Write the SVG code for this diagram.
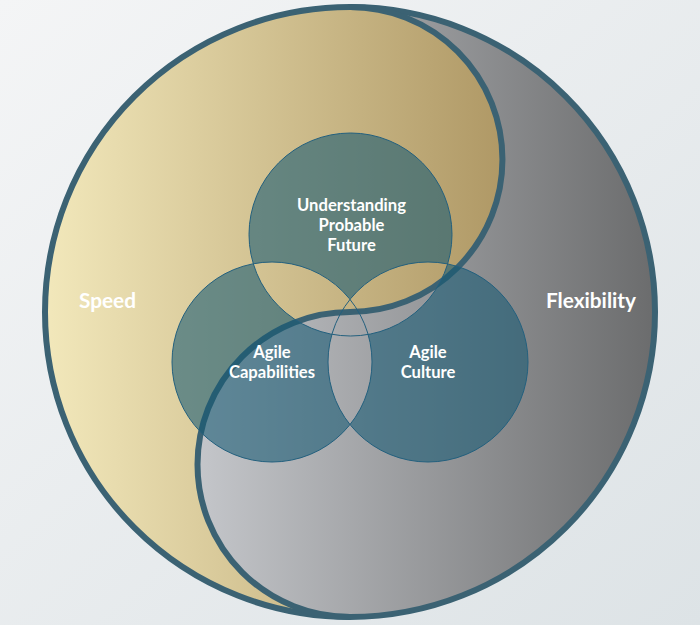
<svg xmlns="http://www.w3.org/2000/svg" width="700" height="625" viewBox="0 0 700 625">
<defs>
  <linearGradient id="bg" x1="0" y1="0" x2="1" y2="1">
    <stop offset="0" stop-color="#f4f5f6"/>
    <stop offset="1" stop-color="#dde3e6"/>
  </linearGradient>
  <linearGradient id="gold" gradientUnits="userSpaceOnUse" x1="45" y1="0" x2="505" y2="0">
    <stop offset="0" stop-color="#f2e8bb"/>
    <stop offset="1" stop-color="#af9865"/>
  </linearGradient>
  <linearGradient id="grey" gradientUnits="userSpaceOnUse" x1="198" y1="0" x2="655" y2="0">
    <stop offset="0" stop-color="#c4c6ca"/>
    <stop offset="1" stop-color="#6b6c6d"/>
  </linearGradient>
  <mask id="mTop" maskUnits="userSpaceOnUse" x="0" y="0" width="700" height="625">
    <circle cx="350.5" cy="234.5" r="101.5" fill="#fff"/>
    <circle cx="272" cy="362" r="100" fill="#000"/>
    <circle cx="428" cy="362" r="100" fill="#000"/>
  </mask>
  <mask id="mCap" maskUnits="userSpaceOnUse" x="0" y="0" width="700" height="625">
    <circle cx="272" cy="362" r="100" fill="#fff"/>
    <circle cx="350.5" cy="234.5" r="101.5" fill="#000"/>
    <circle cx="428" cy="362" r="100" fill="#000"/>
  </mask>
  <mask id="mCul" maskUnits="userSpaceOnUse" x="0" y="0" width="700" height="625">
    <circle cx="428" cy="362" r="100" fill="#fff"/>
    <circle cx="350.5" cy="234.5" r="101.5" fill="#000"/>
    <circle cx="272" cy="362" r="100" fill="#000"/>
  </mask>
</defs>
<style>
  .ring { fill: none; stroke: #3b6273; stroke-width: 6; }
  .tint { fill: #165a74; fill-opacity: 0.58; }
  .edge { fill: none; stroke: #23607e; stroke-width: 1; }
  .lbl { font-family: Lato, "Open Sans", "Liberation Sans", sans-serif; font-weight: 700; fill: #ffffff; text-anchor: middle; }
  .big { font-size: 20.8px; }
  .small { font-size: 16.6px; }
</style>
<rect width="700" height="625" fill="url(#bg)"/>

<g id="yinyang">
  <circle id="speed-area" cx="350" cy="312" r="305" fill="url(#gold)"/>
  <path id="flex-area" d="M350 7 A305 305 0 0 1 350 617 A152.5 152.5 0 0 1 350 312 A152.5 152.5 0 0 0 350 7 Z" fill="url(#grey)"/>
  <circle class="ring" cx="350" cy="312" r="305"/>
  <path class="ring" d="M350 7 A152.5 152.5 0 0 1 350 312 A152.5 152.5 0 0 0 350 617"/>
</g>

<g id="venn-fills">
  <rect class="tint" width="700" height="625" mask="url(#mTop)"/>
  <rect class="tint" width="700" height="625" mask="url(#mCap)"/>
  <rect class="tint" width="700" height="625" mask="url(#mCul)"/>
</g>

<g id="node-future">
  <circle class="edge" cx="350.5" cy="234.5" r="101.5"/>
  <text class="lbl small" x="351.5" y="210.5">Understanding</text>
  <text class="lbl small" x="351.5" y="230.5">Probable</text>
  <text class="lbl small" x="351.5" y="250.5">Future</text>
</g>
<g id="node-capabilities">
  <circle class="edge" cx="272" cy="362" r="100"/>
  <text class="lbl small" x="272" y="357.5">Agile</text>
  <text class="lbl small" x="272" y="377.5">Capabilities</text>
</g>
<g id="node-culture">
  <circle class="edge" cx="428" cy="362" r="100"/>
  <text class="lbl small" x="428" y="357.5">Agile</text>
  <text class="lbl small" x="428" y="377.5">Culture</text>
</g>
<g id="node-speed">
  <text class="lbl big" x="107.5" y="307.5">Speed</text>
</g>
<g id="node-flexibility">
  <text class="lbl big" x="591" y="307.5">Flexibility</text>
</g>
</svg>
